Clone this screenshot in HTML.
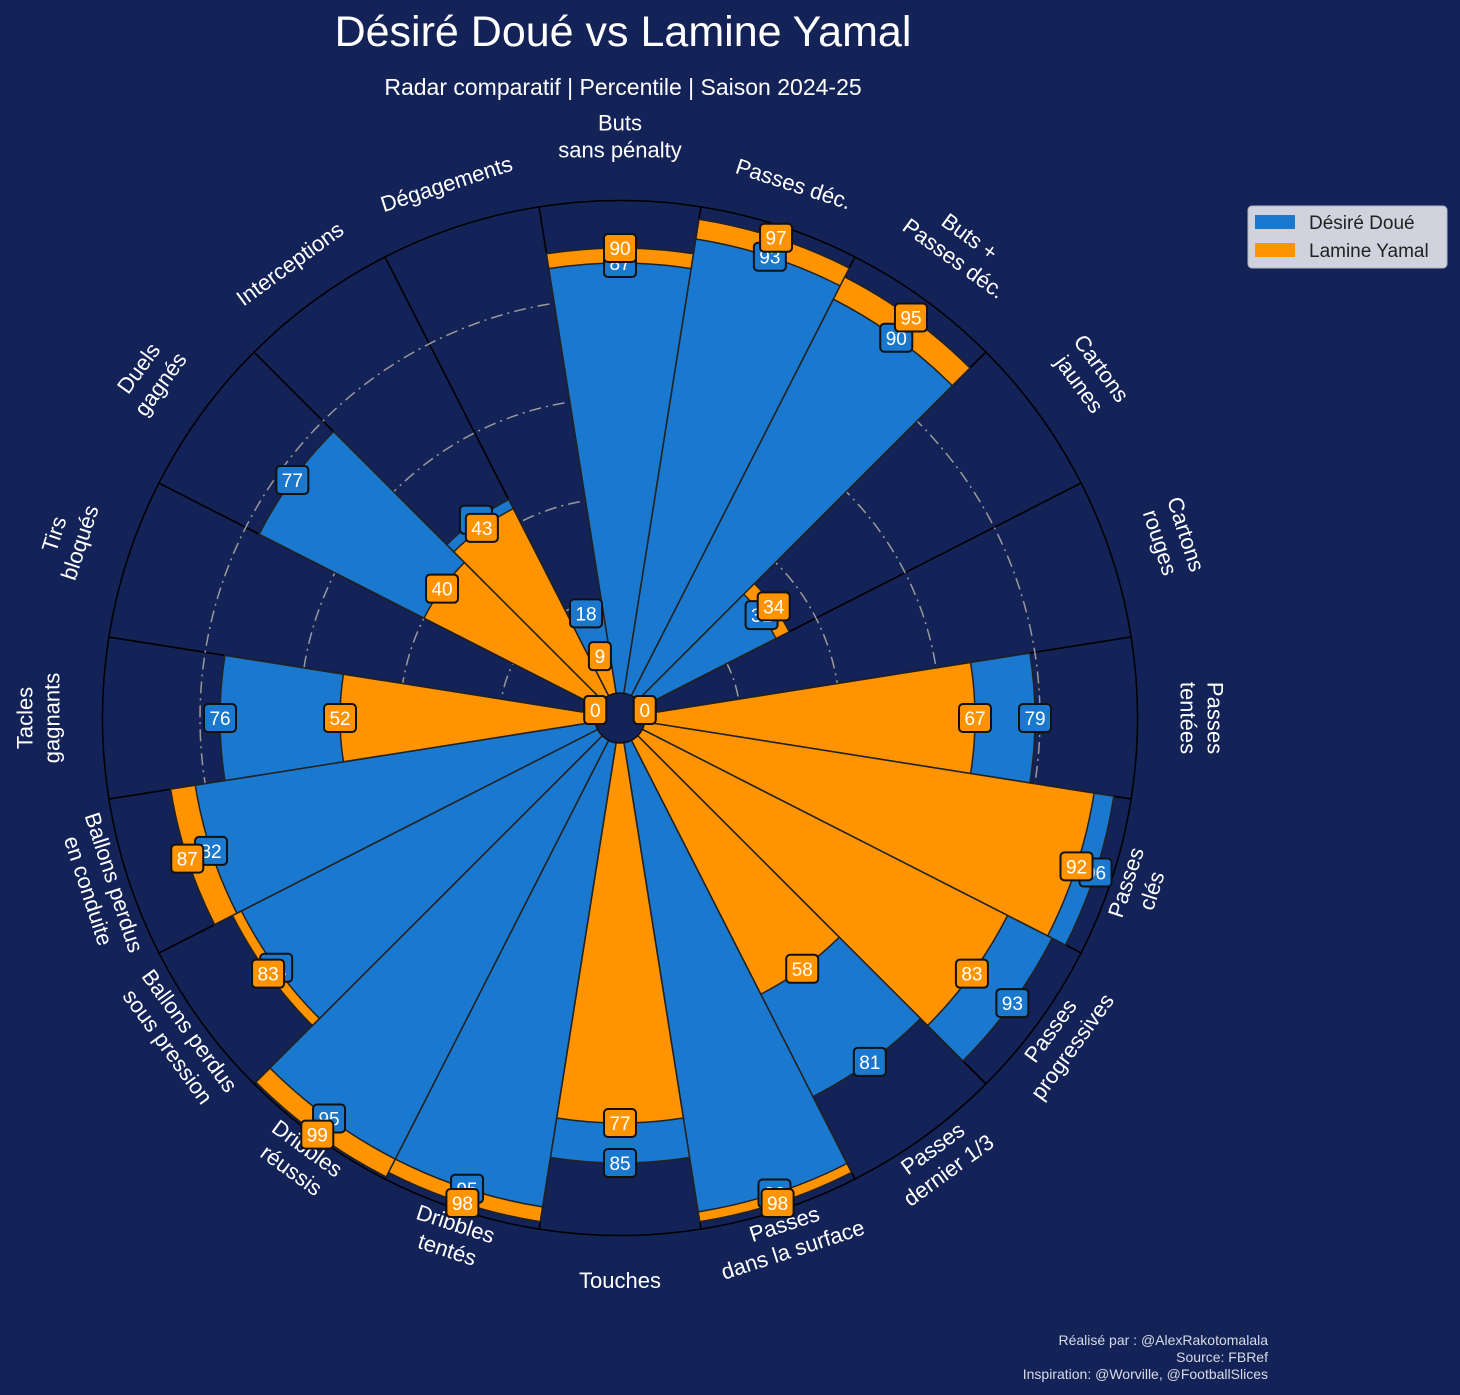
<!DOCTYPE html>
<html><head><meta charset="utf-8">
<style>
html,body{margin:0;padding:0;background:#132257;}
svg{display:block;font-family:"Liberation Sans",sans-serif;}
</style></head>
<body>
<svg id="chart" width="1460" height="1395" viewBox="0 0 1460 1395">
<rect x="0" y="0" width="1460" height="1395" fill="#132257"/>
<text x="623" y="46" text-anchor="middle" font-size="43" fill="#ffffff">Désiré Doué vs Lamine Yamal</text>
<text x="623" y="95" text-anchor="middle" font-size="23" fill="#ffffff">Radar comparatif | Percentile | Saison 2024-25</text>
<g id="slices"></g>
<g id="grid"></g>
<g id="bars"></g>
<g id="params"></g>
<circle cx="620" cy="718" r="25" fill="#132257" stroke="#111" stroke-width="1.5"/>
<g id="vlabels"></g>
<g>
<rect x="1248" y="206" width="199" height="62" rx="4" fill="#d0d3de" stroke="#b0b4c0"/>
<rect x="1255" y="215" width="40" height="14" fill="#1a78cf"/>
<text x="1309" y="229" font-size="19" fill="#222">Désiré Doué</text>
<rect x="1255" y="243" width="40" height="14" fill="#ff9300"/>
<text x="1309" y="257" font-size="19" fill="#222">Lamine Yamal</text>
</g>
<g font-size="14" fill="#d8dbe6" text-anchor="end">
<text x="1268" y="1345">Réalisé par : @AlexRakotomalala</text>
<text x="1268" y="1362">Source: FBRef</text>
<text x="1268" y="1379">Inspiration: @Worville, @FootballSlices</text>
</g>
</svg>
<script>
const params = ["Buts\nsans pénalty","Passes déc.","Buts +\nPasses déc.","Cartons\njaunes","Cartons\nrouges","Passes\ntentées","Passes\nclés","Passes\nprogressives","Passes\ndernier 1/3","Passes\ndans la surface","Touches","Dribbles\ntentés","Dribbles\nréussis","Ballons perdus\nsous pression","Ballons perdus\nen conduite","Tacles\ngagnants","Tirs\nbloqués","Duels\ngagnés","Interceptions","Dégagements"];
const doueValues = [87,93,90,31,0,79,96,93,81,96,85,95,95,81,82,76,0,77,45,18];
const yamalValues = [90,97,95,34,0,67,92,83,58,98,77,98,99,83,87,52,0,40,43,9];
const gridValues = [20,40,60,80];

const NS="http://www.w3.org/2000/svg";
const CX=620, CY=718, R0=20, K=5.0, N=params.length, STEP=360/N;
function rad(v){return R0+K*v;}
function pt(r,deg){const a=deg*Math.PI/180;return [CX+r*Math.cos(a),CY-r*Math.sin(a)];}
function center(i){return 90-STEP*i;}
function wedge(r,i){
  const a1=center(i)+STEP/2, a2=center(i)-STEP/2;
  const p1=pt(r,a1), p2=pt(r,a2);
  return `M${CX},${CY} L${p1[0]},${p1[1]} A${r},${r} 0 0 1 ${p2[0]},${p2[1]} Z`;
}
function mk(tag,attrs,parent){const e=document.createElementNS(NS,tag);for(const k in attrs)e.setAttribute(k,attrs[k]);parent.appendChild(e);return e;}
const gS=document.getElementById('slices'),gG=document.getElementById('grid'),gB=document.getElementById('bars'),gP=document.getElementById('params'),gV=document.getElementById('vlabels');

for(let i=0;i<N;i++){
  const s=mk('path',{d:wedge(rad(99.5),i),fill:'#132257',stroke:'#000',"stroke-width":1.5},gS);
  
  
}
gridValues.forEach(g=>{
  const c=mk('circle',{cx:CX,cy:CY,r:rad(g),fill:'none',stroke:'#9a9a9a',"stroke-width":1.5,"stroke-dasharray":"12 5 2 5"},gG);
  
  
});
for(let i=0;i<N;i++){
  const d=doueValues[i], y=yamalValues[i];
  const order = d>=y ? [['doue',d,'#1a78cf'],['yamal',y,'#ff9300']] : [['yamal',y,'#ff9300'],['doue',d,'#1a78cf']];
  order.forEach(o=>{
    if(o[1]<=0) return;
    const b=mk('path',{d:wedge(rad(o[1]),i),fill:o[2],stroke:'#222',"stroke-width":1.5},gB);
    
    
  });
}
for(let i=0;i<N;i++){
  const th=center(i), t=((th%360)+360)%360;
  const lines=params[i].split('\n');
  const lh=27;
  const upper = t<=180;
  const r = lines.length>1 ? (upper?582:545) : 562;
  const p=pt(r,th);
  let rot = upper ? 90-t : -(t+90);
  const g=mk('g',{transform:`translate(${p[0]},${p[1]}) rotate(${rot})`},gP);
  
  
  const off=-(lines.length-1)*lh/2;
  lines.forEach((ln,j)=>{
    const tx=mk('text',{x:0,y:off+j*lh+8,"text-anchor":"middle","font-size":22,fill:'#ffffff'},g);
    tx.textContent=ln;
  });
}
function vlabel(v,i,color,name){
  const p=pt(rad(v)+(v===0?6:0),center(i));
  const g=mk('g',{transform:`translate(${p[0]},${p[1]})`},gV);
  
  
  const w=String(v).length>1?32:22;
  mk('rect',{x:-w/2,y:-14,width:w,height:28,rx:4,fill:color,stroke:'#111',"stroke-width":2},g);
  const t=mk('text',{x:0,y:7,"text-anchor":"middle","font-size":19,fill:'#fff'},g);
  t.textContent=v;
}
for(let i=0;i<N;i++) vlabel(doueValues[i],i,'#1a78cf','value-label-doue');
for(let i=0;i<N;i++) vlabel(yamalValues[i],i,'#ff9300','value-label-yamal');
</script>
</body></html>
